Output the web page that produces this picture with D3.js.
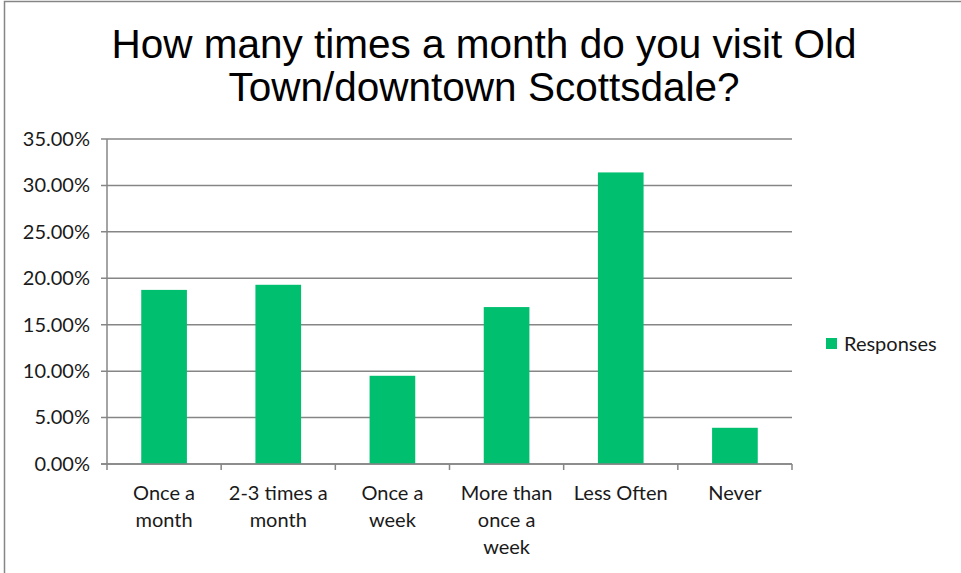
<!DOCTYPE html>
<html>
<head>
<meta charset="utf-8">
<script src="https://cdn.jsdelivr.net/npm/d3@7"></script>
<style>
  body { margin: 0; background: #fff; }
  svg { display: block; }
</style>
</head>
<body>
<script>
'use strict';
// survey bar chart, Excel style
(function() {
  let categories = [
    ["Once a", "month"],
    ["2-3 times a", "month"],
    ["Once a", "week"],
    ["More than", "once a", "week"],
    ["Less Often"],
    ["Never"]
  ];
  let responses = [0.1875, 0.193, 0.095, 0.169, 0.314, 0.039];
  let yTicks = [0, 0.05, 0.10, 0.15, 0.20, 0.25, 0.30, 0.35];
  let titleLines = ["How many times a month do you visit Old", "Town/downtown Scottsdale?"];
  let seriesName = "Responses";

  let width = 961, height = 573;
  let green = "#00bf6f";
  let gridColor = "#868686";
  let labelFont = "Lato, 'Open Sans', sans-serif";
  let labelSize = '20px';
  let textColor = '#1a1a1a';

  let svg = d3.select('body')
    .append('svg')
    .attr('width', width)
    .attr('height', height);

  // outer chart border (top and left visible)
  svg.append('path')
    .attr('d', 'M4.5,' + height + 'V1.5H' + width)
    .attr('fill', 'none')
    .attr('stroke', gridColor)
    .attr('stroke-width', 1.5);

  // title
  svg.append('g').selectAll('text')
    .data(titleLines)
    .enter()
    .append('text')
      .attr('x', 484)
      .attr('y', (d, i) => 58 + i * 43)
      .attr('text-anchor', 'middle')
      .style('font-family', "'Liberation Sans', Arial, sans-serif")
      .style('font-size', '40.5px')
      .attr('fill', '#000')
      .text(d => d);

  let xScale = d3.scaleBand()
    .domain(d3.range(categories.length))
    .range([107, 792])
    .paddingInner(0.6)
    .paddingOuter(0.3);

  let yScale = d3.scaleLinear()
    .domain([0, 0.35])
    .range([464, 139]);

  // gridlines
  svg.append('g').selectAll('line')
    .data(yTicks)
    .enter()
    .append('line')
      .attr('x1', 101)
      .attr('x2', 792)
      .attr('y1', d => yScale(d))
      .attr('y2', d => yScale(d))
      .attr('stroke', gridColor)
      .attr('stroke-width', 1.5);

  // y axis labels
  let yAxis = d3.axisLeft(yScale)
    .tickValues(yTicks)
    .tickFormat(d3.format('.2%'))
    .tickSize(0)
    .tickPadding(11);
  let yG = svg.append('g')
    .attr('transform', 'translate(101,0)')
    .call(yAxis);
  yG.select('.domain').remove();
  yG.selectAll('text')
    .style('font-family', labelFont)
    .style('font-size', labelSize)
    .attr('fill', textColor);

  // bars
  svg.append('g').selectAll('rect')
    .data(responses)
    .enter()
    .append('rect')
      .attr('x', (d, i) => xScale(i))
      .attr('y', d => yScale(d))
      .attr('width', xScale.bandwidth())
      .attr('height', d => yScale(0) - yScale(d))
      .attr('fill', green);

  // y axis line
  svg.append('line')
    .attr('x1', 107).attr('x2', 107)
    .attr('y1', 139).attr('y2', 464)
    .attr('stroke', gridColor)
    .attr('stroke-width', 1.5);

  // x axis line and ticks between categories
  let bounds = d3.range(categories.length + 1).map(i => 107 + i * (685 / categories.length));
  svg.append('line')
    .attr('x1', 101).attr('x2', 792)
    .attr('y1', 464).attr('y2', 464)
    .attr('stroke', gridColor)
    .attr('stroke-width', 1.5);
  svg.append('g').selectAll('line')
    .data(bounds)
    .enter()
    .append('line')
      .attr('x1', d => d).attr('x2', d => d)
      .attr('y1', 464).attr('y2', 470)
      .attr('stroke', gridColor)
      .attr('stroke-width', 1.5);

  // category labels
  let labels = svg.append('g').selectAll('text')
    .data(categories)
    .enter()
    .append('text')
      .attr('x', (d, i) => xScale(i) + xScale.bandwidth() / 2)
      .attr('y', 500)
      .attr('text-anchor', 'middle')
      .style('font-family', labelFont)
      .style('font-size', labelSize)
      .attr('fill', textColor);
  labels.selectAll('tspan')
    .data(d => d)
    .enter()
    .append('tspan')
      .attr('x', function() { return d3.select(this.parentNode).attr('x'); })
      .attr('dy', (d, i) => i === 0 ? 0 : 27)
      .text(d => d);

  // legend
  svg.append('rect')
    .attr('x', 826).attr('y', 338)
    .attr('width', 11).attr('height', 11)
    .attr('fill', green);
  svg.append('text')
    .attr('x', 844).attr('y', 351)
    .style('font-family', labelFont)
    .style('font-size', labelSize)
    .attr('fill', textColor)
    .text(seriesName);
})();
</script>
</body>
</html>
